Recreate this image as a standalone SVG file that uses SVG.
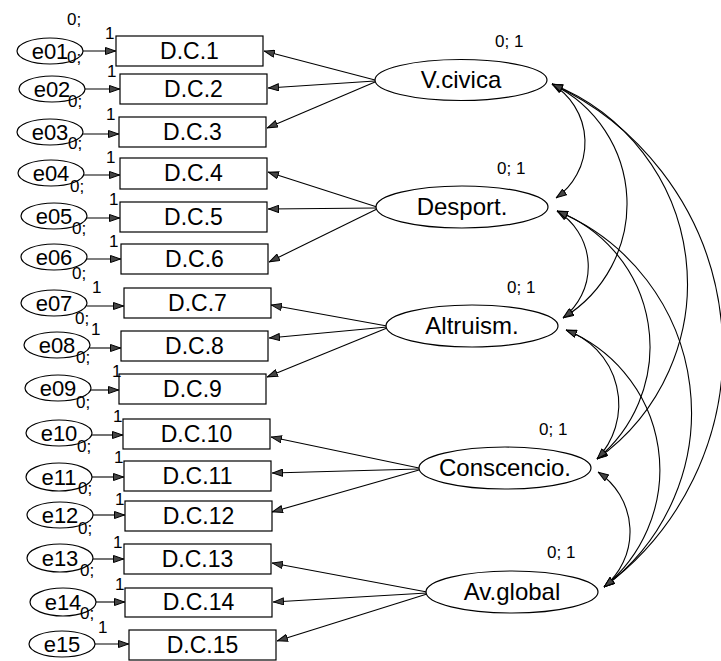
<svg xmlns="http://www.w3.org/2000/svg" width="721" height="661" viewBox="0 0 721 661">
  <style>
    .box { fill: #fff; stroke: #000; stroke-width: 1.2; }
    .ell { fill: #fff; stroke: #000; stroke-width: 1.2; }
    .lbl { font-family: "Liberation Sans", Arial, sans-serif; font-size: 23px; fill: #000; text-anchor: middle; }
    .elbl { font-family: "Liberation Sans", Arial, sans-serif; font-size: 22px; fill: #000; text-anchor: middle; }
    .lat { font-family: "Liberation Sans", Arial, sans-serif; font-size: 24px; fill: #000; text-anchor: middle; }
    .sm { font-family: "Liberation Sans", Arial, sans-serif; font-size: 17px; fill: #000; }
    .ln { fill: none; stroke: #000; stroke-width: 1.1; marker-end: url(#ah); }
    .cov { fill: none; stroke: #000; stroke-width: 1.1; marker-start: url(#ah); marker-end: url(#ah); }
  </style>
  <defs>
    <marker id="ah" viewBox="0 0 11 8" refX="11" refY="4" markerWidth="11" markerHeight="8" markerUnits="userSpaceOnUse" orient="auto-start-reverse">
      <path d="M0.5,0.5 L10.5,4 L0.5,7.5 z" fill="#444" stroke="#000" stroke-width="1"/>
    </marker>
  </defs>
  <rect width="721" height="661" fill="#fff"/>

  <!-- connectors -->
  <g id="connectors">
    <!-- error terms to indicators -->
    <line class="ln" x1="83" y1="51" x2="116" y2="51"/>
    <line class="ln" x1="85" y1="89" x2="120" y2="89"/>
    <line class="ln" x1="83" y1="134" x2="119" y2="134"/>
    <line class="ln" x1="84" y1="175" x2="120" y2="175"/>
    <line class="ln" x1="87" y1="218" x2="120" y2="218"/>
    <line class="ln" x1="87" y1="259" x2="121" y2="259"/>
    <line class="ln" x1="87" y1="306" x2="124" y2="306"/>
    <line class="ln" x1="90" y1="348" x2="121" y2="348"/>
    <line class="ln" x1="91" y1="390" x2="119" y2="390"/>
    <line class="ln" x1="92" y1="435" x2="123" y2="435"/>
    <line class="ln" x1="92" y1="477" x2="124" y2="477"/>
    <line class="ln" x1="93" y1="515" x2="125" y2="515"/>
    <line class="ln" x1="93" y1="559" x2="124" y2="559"/>
    <line class="ln" x1="96" y1="602" x2="125" y2="602"/>
    <line class="ln" x1="95" y1="644" x2="129" y2="644"/>

    <!-- loadings -->
    <line class="ln" x1="375" y1="80" x2="264" y2="51"/>
    <line class="ln" x1="375" y1="81" x2="268" y2="88"/>
    <line class="ln" x1="375" y1="82" x2="267" y2="128"/>

    <line class="ln" x1="377" y1="207" x2="268" y2="172"/>
    <line class="ln" x1="377" y1="208" x2="268" y2="209"/>
    <line class="ln" x1="377" y1="209" x2="269" y2="262"/>

    <line class="ln" x1="387" y1="326" x2="271" y2="305"/>
    <line class="ln" x1="387" y1="327" x2="269" y2="338"/>
    <line class="ln" x1="387" y1="328" x2="267" y2="377"/>

    <line class="ln" x1="419" y1="468" x2="271" y2="437"/>
    <line class="ln" x1="419" y1="469" x2="272" y2="473"/>
    <line class="ln" x1="419" y1="470" x2="272" y2="512"/>

    <line class="ln" x1="427" y1="592" x2="272" y2="563"/>
    <line class="ln" x1="427" y1="593" x2="273" y2="602"/>
    <line class="ln" x1="427" y1="594" x2="277" y2="641"/>

    <!-- covariances between factors -->
    <path class="cov" d="M552,84 A68,68 0 0 1 556,198"/>
    <path class="cov" d="M552,84 A133.5,133.5 0 0 1 563,318"/>
    <path class="cov" d="M552,84 A215,215 0 0 1 597,459"/>
    <path class="cov" d="M552,84 A294,294 0 0 1 604,587"/>
    <path class="cov" d="M557,211 A65,65 0 0 1 563,318"/>
    <path class="cov" d="M557,211 A145.5,145.5 0 0 1 597,459"/>
    <path class="cov" d="M557,211 A218,218 0 0 1 604,587"/>
    <path class="cov" d="M566,330 A79,79 0 0 1 597,459"/>
    <path class="cov" d="M566,330 A151,151 0 0 1 604,587"/>
    <path class="cov" d="M598,472 A71.7,71.7 0 0 1 604,587"/>
  </g>

  <!-- top parameter label -->
  <text class="sm" x="67" y="25">0;</text>

  <!-- error terms -->
  <g id="e01"><ellipse class="ell" cx="50" cy="51" rx="33" ry="13"/><text class="elbl" x="50" y="59">e01</text><text class="sm" x="67" y="63">0;</text></g>
  <g id="e02"><ellipse class="ell" cx="52" cy="89" rx="33" ry="13"/><text class="elbl" x="52" y="97">e02</text><text class="sm" x="68" y="107">0;</text></g>
  <g id="e03"><ellipse class="ell" cx="50" cy="132" rx="33" ry="13"/><text class="elbl" x="50" y="140">e03</text><text class="sm" x="68" y="149">0;</text></g>
  <g id="e04"><ellipse class="ell" cx="51" cy="173" rx="33" ry="13"/><text class="elbl" x="51" y="181">e04</text><text class="sm" x="70" y="192">0;</text></g>
  <g id="e05"><ellipse class="ell" cx="54" cy="216" rx="33" ry="13"/><text class="elbl" x="54" y="224">e05</text><text class="sm" x="72" y="234">0;</text></g>
  <g id="e06"><ellipse class="ell" cx="54" cy="257" rx="33" ry="13"/><text class="elbl" x="54" y="265">e06</text><text class="sm" x="72" y="279">0;</text></g>
  <g id="e07"><ellipse class="ell" cx="54" cy="303" rx="33" ry="13"/><text class="elbl" x="54" y="311">e07</text><text class="sm" x="75" y="324">0;</text></g>
  <g id="e08"><ellipse class="ell" cx="57" cy="345" rx="33" ry="13"/><text class="elbl" x="57" y="353">e08</text><text class="sm" x="76" y="363">0;</text></g>
  <g id="e09"><ellipse class="ell" cx="58" cy="388" rx="33" ry="13"/><text class="elbl" x="58" y="396">e09</text><text class="sm" x="76" y="408">0;</text></g>
  <g id="e10"><ellipse class="ell" cx="59" cy="433" rx="33" ry="13"/><text class="elbl" x="59" y="441">e10</text><text class="sm" x="77" y="452">0;</text></g>
  <g id="e11"><ellipse class="ell" cx="59" cy="477" rx="33" ry="14"/><text class="elbl" x="59" y="485">e11</text><text class="sm" x="78" y="494">0;</text></g>
  <g id="e12"><ellipse class="ell" cx="60" cy="515" rx="33" ry="13"/><text class="elbl" x="60" y="523">e12</text><text class="sm" x="78" y="534">0;</text></g>
  <g id="e13"><ellipse class="ell" cx="60" cy="558" rx="33" ry="14"/><text class="elbl" x="60" y="566">e13</text><text class="sm" x="80" y="576">0;</text></g>
  <g id="e14"><ellipse class="ell" cx="63" cy="602" rx="33" ry="14"/><text class="elbl" x="63" y="610">e14</text><text class="sm" x="80" y="619">0;</text></g>
  <g id="e15"><ellipse class="ell" cx="62" cy="644" rx="33" ry="13"/><text class="elbl" x="62" y="652">e15</text></g>

  <!-- observed indicators -->
  <g id="DC1"><rect class="box" x="116" y="36" width="147" height="30"/><text class="lbl" x="189.5" y="59">D.C.1</text><text class="sm" x="105" y="39">1</text></g>
  <g id="DC2"><rect class="box" x="120" y="74" width="147" height="30"/><text class="lbl" x="193.5" y="97">D.C.2</text><text class="sm" x="107" y="77">1</text></g>
  <g id="DC3"><rect class="box" x="119" y="117" width="147" height="30"/><text class="lbl" x="192.5" y="140">D.C.3</text><text class="sm" x="106" y="120">1</text></g>
  <g id="DC4"><rect class="box" x="120" y="158" width="147" height="31"/><text class="lbl" x="193.5" y="181">D.C.4</text><text class="sm" x="106" y="163">1</text></g>
  <g id="DC5"><rect class="box" x="120" y="202" width="147" height="30"/><text class="lbl" x="193.5" y="225">D.C.5</text><text class="sm" x="109" y="205">1</text></g>
  <g id="DC6"><rect class="box" x="121" y="244" width="147" height="30"/><text class="lbl" x="194.5" y="267">D.C.6</text><text class="sm" x="109" y="247">1</text></g>
  <g id="DC7"><rect class="box" x="124" y="288" width="147" height="30"/><text class="lbl" x="197.5" y="311">D.C.7</text><text class="sm" x="92" y="293">1</text></g>
  <g id="DC8"><rect class="box" x="121" y="331" width="147" height="30"/><text class="lbl" x="194.5" y="354">D.C.8</text><text class="sm" x="91" y="335">1</text></g>
  <g id="DC9"><rect class="box" x="119" y="374" width="147" height="30"/><text class="lbl" x="192.5" y="397">D.C.9</text><text class="sm" x="112" y="377">1</text></g>
  <g id="DC10"><rect class="box" x="123" y="419" width="147" height="30"/><text class="lbl" x="196.5" y="442">D.C.10</text><text class="sm" x="113" y="422">1</text></g>
  <g id="DC11"><rect class="box" x="124" y="461" width="147" height="30"/><text class="lbl" x="197.5" y="484">D.C.11</text><text class="sm" x="114" y="463">1</text></g>
  <g id="DC12"><rect class="box" x="125" y="501" width="147" height="30"/><text class="lbl" x="198.5" y="524">D.C.12</text><text class="sm" x="115" y="505">1</text></g>
  <g id="DC13"><rect class="box" x="124" y="544" width="147" height="30"/><text class="lbl" x="197.5" y="567">D.C.13</text><text class="sm" x="113" y="548">1</text></g>
  <g id="DC14"><rect class="box" x="125" y="588" width="147" height="29"/><text class="lbl" x="198.5" y="610">D.C.14</text><text class="sm" x="115" y="590">1</text></g>
  <g id="DC15"><rect class="box" x="129" y="630" width="147" height="30"/><text class="lbl" x="202.5" y="653">D.C.15</text><text class="sm" x="98" y="633">1</text></g>

  <!-- latent factors -->
  <g id="Vcivica"><ellipse class="ell" cx="461" cy="80" rx="86" ry="20.5"/><text class="lat" x="461" y="88">V.civica</text><text class="sm" x="495" y="47">0; 1</text></g>
  <g id="Desport"><ellipse class="ell" cx="462" cy="207" rx="86" ry="21"/><text class="lat" x="462" y="215">Desport.</text><text class="sm" x="497" y="174">0; 1</text></g>
  <g id="Altruism"><ellipse class="ell" cx="472" cy="326" rx="86" ry="21"/><text class="lat" x="472" y="334">Altruism.</text><text class="sm" x="507" y="293">0; 1</text></g>
  <g id="Conscencio"><ellipse class="ell" cx="505" cy="468" rx="86" ry="21"/><text class="lat" x="505" y="476">Conscencio.</text><text class="sm" x="539" y="435">0; 1</text></g>
  <g id="Avglobal"><ellipse class="ell" cx="512" cy="592" rx="86" ry="21"/><text class="lat" x="512" y="600">Av.global</text><text class="sm" x="547" y="558">0; 1</text></g>
</svg>
